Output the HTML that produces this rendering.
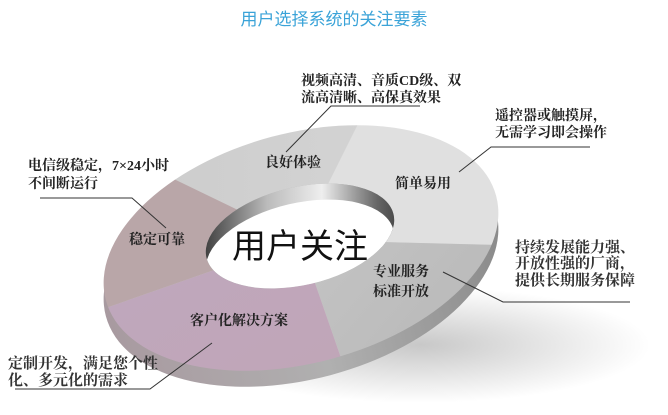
<!DOCTYPE html>
<html><head><meta charset="utf-8"><style>
html,body{margin:0;padding:0;background:#fff;width:668px;height:415px;overflow:hidden;}
svg{display:block;}
.t{font-family:"Liberation Serif","Noto Serif CJK SC",serif;font-size:14px;fill:#222;font-weight:bold;}
.s{font-family:"Liberation Serif","Noto Serif CJK SC",serif;font-size:15px;fill:#333;font-weight:bold;}
</style></head><body>
<svg width="668" height="415" viewBox="0 0 668 415" xmlns="http://www.w3.org/2000/svg">
<defs>
<linearGradient id="side" x1="0" y1="0" x2="1" y2="0">
<stop offset="0" stop-color="#a89aa0"/><stop offset="0.5" stop-color="#b0b0b0"/><stop offset="1" stop-color="#8a8a8a"/></linearGradient>
<linearGradient id="wall" x1="0" y1="0" x2="1" y2="0">
<stop offset="0" stop-color="#222"/><stop offset="0.35" stop-color="#bbb"/><stop offset="0.6" stop-color="#eee"/><stop offset="0.85" stop-color="#666"/><stop offset="1" stop-color="#333"/></linearGradient>
<radialGradient id="shd" cx="0.5" cy="0.5" r="0.5">
<stop offset="0" stop-color="#c8c8c8"/><stop offset="1" stop-color="#fff"/></radialGradient>
<linearGradient id="pur" x1="0" y1="0" x2="1" y2="1">
<stop offset="0" stop-color="#bcaac2"/><stop offset="1" stop-color="#c4a2b0"/></linearGradient>
<linearGradient id="pro" x1="0" y1="0" x2="1" y2="1">
<stop offset="0" stop-color="#c4c4c4"/><stop offset="1" stop-color="#a2a2a2"/></linearGradient>
<linearGradient id="topg" x1="0" y1="0" x2="1" y2="0">
<stop offset="0" stop-color="#c8c8c8"/><stop offset="1" stop-color="#dcdcdc"/></linearGradient>
<mask id="ring">
<ellipse cx="301" cy="248" rx="202" ry="115" transform="rotate(-15 301 248)" fill="#fff"/>
<ellipse cx="300" cy="236" rx="96" ry="49" transform="rotate(-13 300 236)" fill="#000"/>
</mask>
<clipPath id="hole"><ellipse cx="300" cy="236" rx="96" ry="49" transform="rotate(-13 300 236)"/></clipPath>
</defs>
<text x="334" y="25" text-anchor="middle" font-family="Liberation Sans,Noto Sans CJK SC,sans-serif" font-size="17" fill="#3aa3d8">用户选择系统的关注要素</text>
<ellipse cx="420" cy="345" rx="230" ry="58" fill="url(#shd)"/>
<ellipse cx="301" cy="264" rx="202" ry="115" transform="rotate(-15 301 264)" fill="url(#side)"/>
<g mask="url(#ring)">
<rect x="0" y="0" width="668" height="415" fill="url(#topg)"/>
<polygon points="300,240 700,250 700,-200 520,-200" fill="#e0e0e0"/>
<polygon points="300,240 700,250 700,700 460,700" fill="url(#pro)"/>
<polygon points="300,240 460,700 -200,700 -300,450" fill="url(#pur)"/>
<polygon points="300,240 -300,450 -300,-50" fill="#b9a6a8"/>
</g>
<g clip-path="url(#hole)">
<rect x="190" y="170" width="220" height="130" fill="url(#wall)"/>
<ellipse cx="300" cy="252" rx="96" ry="49" transform="rotate(-13 300 252)" fill="#fff"/>
</g>
<text x="300" y="258" text-anchor="middle" font-family="Liberation Sans,Noto Sans CJK SC,sans-serif" font-size="34" fill="#111">用户关注</text>
<text class="t" x="265" y="167">良好体验</text>
<text class="t" x="395" y="188">简单易用</text>
<text class="t" x="129" y="244">稳定可靠</text>
<text class="t" x="373" y="276">专业服务</text>
<text class="t" x="373" y="296">标准开放</text>
<text class="t" x="190" y="325">客户化解决方案</text>
<text class="t" x="301" y="85">视频高清、音质CD级、双</text>
<text class="t" x="301" y="102">流高清晰、高保真效果</text>
<text class="t" x="495" y="120">遥控器或触摸屏，</text>
<text class="t" x="495" y="137">无需学习即会操作</text>
<text class="t" x="28" y="170">电信级稳定，7×24小时</text>
<text class="t" x="28" y="188">不间断运行</text>
<text class="s" x="515" y="252">持续发展能力强、</text>
<text class="s" x="515" y="268">开放性强的厂商，</text>
<text class="s" x="515" y="285">提供长期服务保障</text>
<text class="s" x="8" y="368">定制开发，满足您个性</text>
<text class="s" x="8" y="385">化、多元化的需求</text>
<g stroke="#333" stroke-width="1" fill="none">
<polyline points="420,106 331,106 286,152"/>
<polyline points="590,147 491,147 459,172"/>
<polyline points="40,198 132,198 166,228"/>
<polyline points="443,272 503,302 630,302"/>
<polyline points="212,343 150,389 15,389"/>
</g>
</svg>
</body></html>
